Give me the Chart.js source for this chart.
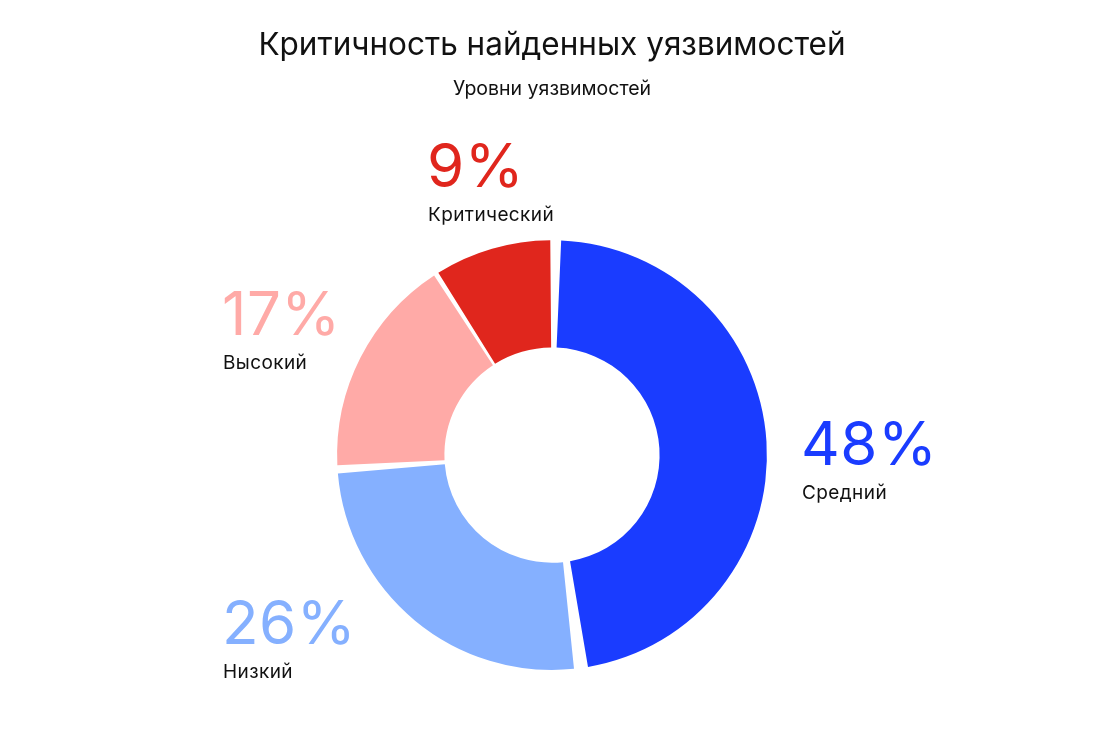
<!DOCTYPE html>
<html lang="ru">
<head>
<meta charset="utf-8">
<title>Критичность найденных уязвимостей</title>
<script src="https://cdn.jsdelivr.net/npm/chart.js@4.4.1/dist/chart.umd.min.js"></script>
<style>
  html, body { margin: 0; padding: 0; background: #fff; }
  #wrap { width: 1104px; height: 734px; }
</style>
</head>
<body>
<div id="wrap"><canvas id="critChart" width="1104" height="734"></canvas></div>
<script>
// data
const categories = ['Средний', 'Низкий', 'Высокий', 'Критический'];
const shares = [48, 26, 17, 9];

// styles
const sliceColors = ['#1a3cff', '#85b0ff', '#ffaaa7', '#e0261d'];
// where each label block starts (left x, baseline of the percent text)
const labelSpots = [
  { x: 801, y: 465 },
  { x: 222, y: 644 },
  { x: 222, y: 335 },
  { x: 427, y: 187 }
];

const sliceLabels = {
  id: 'sliceLabels',
  afterDatasetsDraw(chart) {
    const ctx = chart.ctx;
    ctx.save();
    ctx.textAlign = 'left';
    ctx.textBaseline = 'alphabetic';
    chart.data.labels.forEach((name, i) => {
      const spot = labelSpots[i];
      ctx.fillStyle = sliceColors[i];
      ctx.font = '400 60px Inter';
      ctx.letterSpacing = '0.5px';
      ctx.fillText(shares[i] + '%', spot.x, spot.y);
      ctx.fillStyle = '#111111';
      ctx.font = '400 19px Inter';
      ctx.letterSpacing = '0.4px';
      ctx.fillText(name, spot.x + 1, spot.y + 34);
    });
    ctx.restore();
  }
};

const ctxD = document.getElementById('critChart').getContext('2d');

const configD = {
  type: 'doughnut',
  data: {
    labels: categories,
    datasets: [{
      data: shares,
      backgroundColor: sliceColors,
      borderWidth: 0,
      spacing: 9,
      hoverOffset: 0
    }]
  },
  options: {
    responsive: false,
    animation: false,
    cutout: '49%',
    rotation: 0,
    layout: {
      padding: { bottom: 64 }
    },
    plugins: {
      legend: { display: false },
      tooltip: { enabled: false },
      title: {
        display: true,
        text: 'Критичность найденных уязвимостей',
        color: '#111111',
        font: { family: 'Inter', size: 31.5, weight: '400' },
        padding: { top: 27, bottom: 0 }
      },
      subtitle: {
        display: true,
        text: 'Уровни уязвимостей',
        color: '#111111',
        font: { family: 'Inter', size: 19.5, weight: '400' },
        padding: { top: 13, bottom: 139 }
      }
    }
  },
  plugins: [sliceLabels]
};

const critChart = new Chart(ctxD, configD);
</script>
</body>
</html>
